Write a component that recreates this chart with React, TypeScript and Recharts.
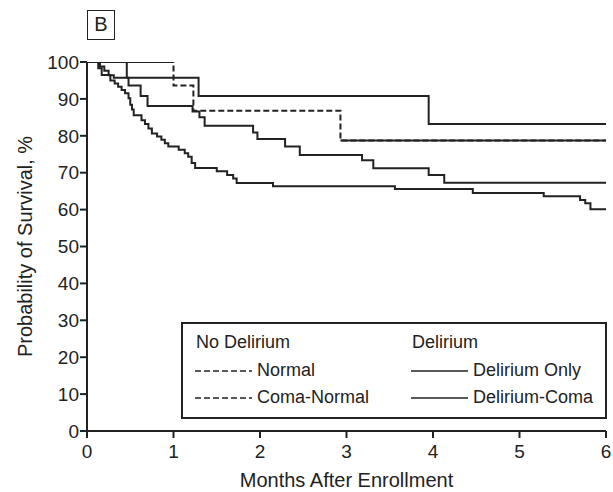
import { LineChart, Line, XAxis, YAxis, Label } from 'recharts'

// month ticks and survival ticks
const months = [0, 1, 2, 3, 4, 5, 6]
const survivalTicks = [0, 10, 20, 30, 40, 50, 60, 70, 80, 90, 100]

// Kaplan-Meier steps: time (months) -> survival (%) after that time
const normalTimes = [0, 1.0, 1.23, 2.93, 6]
const normalSurv = [100, 93.6, 86.8, 78.7, 78.7]

const comaNormalTimes = [0, 0.46, 1.29, 3.95, 6]
const comaNormalSurv = [100, 95.7, 90.8, 83.2, 83.2]

const deliriumOnlyTimes = [
  0, 0.15, 0.2, 0.25, 0.31, 0.48, 0.62, 0.7, 1.22, 1.3, 1.36, 1.92, 1.97, 2.29, 2.46, 3.18, 3.31, 3.95, 4.13, 6,
]
const deliriumOnlySurv = [
  100, 98.8, 97.6, 96.4, 95.7, 93.6, 90.8, 88.1, 86.6, 85.0, 82.7, 80.9, 79.1, 77.1, 74.8, 73.4, 71.2, 69.4, 67.3, 67.3,
]

const deliriumComaTimes = [
  0, 0.13, 0.17, 0.27, 0.32, 0.36, 0.4, 0.44, 0.48, 0.5, 0.52, 0.54, 0.63, 0.67, 0.71, 0.75, 0.81, 0.86, 0.9, 0.94,
  1.06, 1.13, 1.17, 1.21, 1.25, 1.5, 1.62, 1.69, 1.73, 2.15, 3.56, 4.46, 5.28, 5.7, 5.76, 5.82, 6,
]
const deliriumComaSurv = [
  100, 98.3, 96.5, 95.0, 94.2, 93.3, 92.4, 91.5, 90.2, 88.4, 87.1, 85.6, 84.2, 83.2, 82.0, 80.6, 79.8, 78.9, 78.0, 77.1,
  76.2, 75.3, 74.3, 72.6, 71.3, 70.4, 69.4, 68.4, 67.2, 66.3, 65.6, 64.5, 63.6, 62.6, 61.7, 60.1, 60.1,
]

const INK = '#222'
const FONT = '"Liberation Sans", Arial, Helvetica, sans-serif'
const DASH = '6 3'

function toPoints(times: number[], surv: number[]) {
  return times.map((t, i) => ({ t, s: surv[i] }))
}

const normal = toPoints(normalTimes, normalSurv)
const comaNormal = toPoints(comaNormalTimes, comaNormalSurv)
const deliriumOnly = toPoints(deliriumOnlyTimes, deliriumOnlySurv)
const deliriumComa = toPoints(deliriumComaTimes, deliriumComaSurv)

// in the print the first plateau and the last tail of the dashed curve come out solid
const normalHead = [
  { t: normalTimes[0], s: normalSurv[0] },
  { t: normalTimes[1], s: normalSurv[0] },
]
const normalTail = [
  { t: normalTimes[normalTimes.length - 2], s: normalSurv[normalSurv.length - 1] },
  { t: normalTimes[normalTimes.length - 1], s: normalSurv[normalSurv.length - 1] },
]

const legendGroups = [
  { title: 'No Delirium', dashed: true, items: ['Normal', 'Coma-Normal'] },
  { title: 'Delirium', dashed: false, items: ['Delirium Only', 'Delirium-Coma'] },
]

function SurvivalLegend() {
  const rowTops = [8, 36, 63]
  const colLefts = [12, 228]
  return (
    <div
      style={{
        position: 'absolute',
        left: 181,
        top: 322,
        width: 426,
        height: 97,
        boxSizing: 'border-box',
        border: `2px solid ${INK}`,
        background: '#fff',
        fontFamily: FONT,
        fontSize: 18,
        color: INK,
      }}
    >
      {legendGroups.map((g, gi) => (
        <div key={g.title}>
          <div style={{ position: 'absolute', left: colLefts[gi] + 1, top: rowTops[0], lineHeight: '20px' }}>
            {g.title}
          </div>
          {g.items.map((item, ii) => (
            <div
              key={item}
              style={{
                position: 'absolute',
                left: colLefts[gi],
                top: rowTops[ii + 1],
                lineHeight: '20px',
                display: 'flex',
                alignItems: 'center',
                whiteSpace: 'nowrap',
              }}
            >
              <svg width={57} height={20} style={{ marginRight: 5 }}>
                <line
                  x1={0}
                  y1={11}
                  x2={57}
                  y2={11}
                  stroke={INK}
                  strokeWidth={1.5}
                  strokeDasharray={g.dashed ? DASH : undefined}
                />
              </svg>
              {item}
            </div>
          ))}
        </div>
      ))}
    </div>
  )
}

export default function App() {
  const lineProps = {
    dataKey: 's',
    type: 'stepAfter' as const,
    stroke: INK,
    strokeWidth: 2,
    dot: false,
    activeDot: false,
    isAnimationActive: false,
  }
  const tickStyle = { fill: INK, fontSize: 19, fontFamily: FONT }

  return (
    <div style={{ position: 'absolute', left: 0, top: 0, width: 613, height: 492, background: '#fff' }}>
      <LineChart width={613} height={492} margin={{ top: 62, right: 7, bottom: 0, left: 0 }}>
        <XAxis
          type="number"
          dataKey="t"
          domain={[0, 6]}
          ticks={months}
          allowDataOverflow
          height={61}
          tickSize={7}
          tickMargin={7}
          tick={tickStyle}
          axisLine={{ stroke: INK, strokeWidth: 2 }}
          tickLine={{ stroke: INK, strokeWidth: 2 }}
        >
          <Label
            value="Months After Enrollment"
            position="insideBottom"
            offset={5}
            style={{ fill: INK, fontSize: 20, fontFamily: FONT }}
          />
        </XAxis>
        <YAxis
          type="number"
          domain={[0, 100]}
          ticks={survivalTicks}
          allowDataOverflow
          width={87}
          tickSize={7}
          tickMargin={1}
          tick={tickStyle}
          axisLine={{ stroke: INK, strokeWidth: 2 }}
          tickLine={{ stroke: INK, strokeWidth: 2 }}
        >
          <Label
            value="Probability of Survival, %"
            angle={-90}
            position="insideLeft"
            offset={25}
            style={{ fill: INK, fontSize: 20, fontFamily: FONT, textAnchor: 'middle' }}
          />
        </YAxis>
        <Line {...lineProps} data={deliriumComa} name="Delirium-Coma" />
        <Line {...lineProps} data={deliriumOnly} name="Delirium Only" />
        <Line {...lineProps} data={comaNormal} name="Coma-Normal" />
        <Line {...lineProps} data={normal} name="Normal" strokeDasharray={DASH} />
        <Line {...lineProps} data={normalHead} name="Normal-head" legendType="none" />
        <Line {...lineProps} data={normalTail} name="Normal-tail" legendType="none" />
      </LineChart>
      <SurvivalLegend />
      <div
        style={{
          position: 'absolute',
          left: 87,
          top: 10,
          width: 28,
          height: 30,
          boxSizing: 'border-box',
          border: `1.5px solid ${INK}`,
          fontFamily: FONT,
          fontSize: 20,
          lineHeight: '27px',
          textAlign: 'center',
          color: INK,
        }}
      >
        B
      </div>
    </div>
  )
}
